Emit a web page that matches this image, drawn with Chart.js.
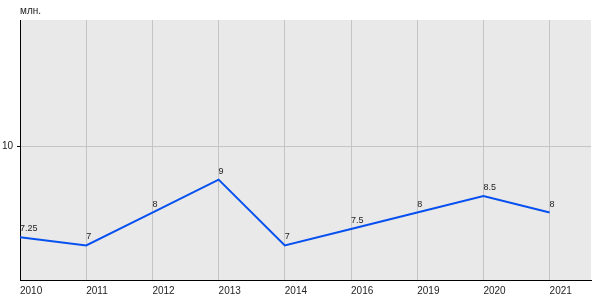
<!DOCTYPE html>
<html>
<head>
<meta charset="utf-8">
<script src="https://cdn.jsdelivr.net/npm/chart.js@4/dist/chart.umd.min.js"></script>
<style>
html,body{margin:0;padding:0;background:#fff;}
#wrap{width:600px;height:300px;}
</style>
</head>
<body>
<div id="wrap"><canvas id="c" width="600" height="300"></canvas></div>
<script>
const years = ['2010','2011','2012','2013','2014','2016','2019','2020','2021'];
const values = [7.25, 7, 8, 9, 7, 7.5, 8, 8.5, 8];
const valueLabels = ['7.25','7','8','9','7','7.5','8','8.5','8'];
const yTicks = [10];
const unitLabel = 'млн.';

const FONT = 'Liberation Sans, Arial, sans-serif';

const bgPlugin = {
  id: 'bg',
  beforeDraw(chart) {
    const {ctx, chartArea: a} = chart;
    ctx.save();
    ctx.fillStyle = '#e9e9e9';
    ctx.fillRect(a.left, a.top, a.right - a.left, a.bottom - a.top);
    ctx.restore();
  },
  afterDraw(chart) {
    const {ctx, chartArea: a} = chart;
    ctx.save();
    ctx.fillStyle = '#222';
    ctx.textAlign = 'left';
    ctx.textBaseline = 'alphabetic';
    ctx.font = '10px ' + FONT;
    ctx.fillText(unitLabel, a.left, 14);
    ctx.font = '9px ' + FONT;
    const meta = chart.getDatasetMeta(0);
    meta.data.forEach((pt, i) => {
      ctx.fillText(valueLabels[i], pt.x, pt.y - 6);
    });
    ctx.restore();
  }
};

new Chart(document.getElementById('c'), {
  type: 'line',
  data: {
    datasets: [{
      data: values.map((v, i) => ({x: i, y: v})),
      borderColor: '#0650f0',
      borderWidth: 2,
      pointRadius: 0,
      tension: 0,
      fill: false
    }]
  },
  options: {
    responsive: false,
    animation: false,
    layout: {padding: {top: 20, right: 9, left: 0, bottom: 0}},
    plugins: {legend: {display: false}, tooltip: {enabled: false}},
    scales: {
      x: {
        type: 'linear',
        min: 0,
        max: 8.625,
        afterBuildTicks(scale) { scale.ticks = years.map((_, i) => ({value: i})); },
        afterFit(scale) { scale.height = 20; },
        grid: {color: '#c4c4c4', drawTicks: false, lineWidth: 1},
        border: {color: '#000', width: 1},
        ticks: {
          callback: (v) => years[v] ?? '',
          align: 'start',
          maxRotation: 0,
          autoSkip: false,
          padding: 5,
          color: '#222',
          font: {family: FONT, size: 10}
        }
      },
      y: {
        min: 5.95,
        max: 13.85,
        afterBuildTicks(scale) { scale.ticks = yTicks.map(v => ({value: v})); },
        afterFit(scale) { scale.width = 20; },
        grid: {color: '#c4c4c4', tickColor: '#000', tickLength: 3, lineWidth: 1},
        border: {color: '#000', width: 1},
        ticks: {
          padding: 4,
          color: '#222',
          font: {family: FONT, size: 10}
        }
      }
    }
  },
  plugins: [bgPlugin]
});
</script>
</body>
</html>
